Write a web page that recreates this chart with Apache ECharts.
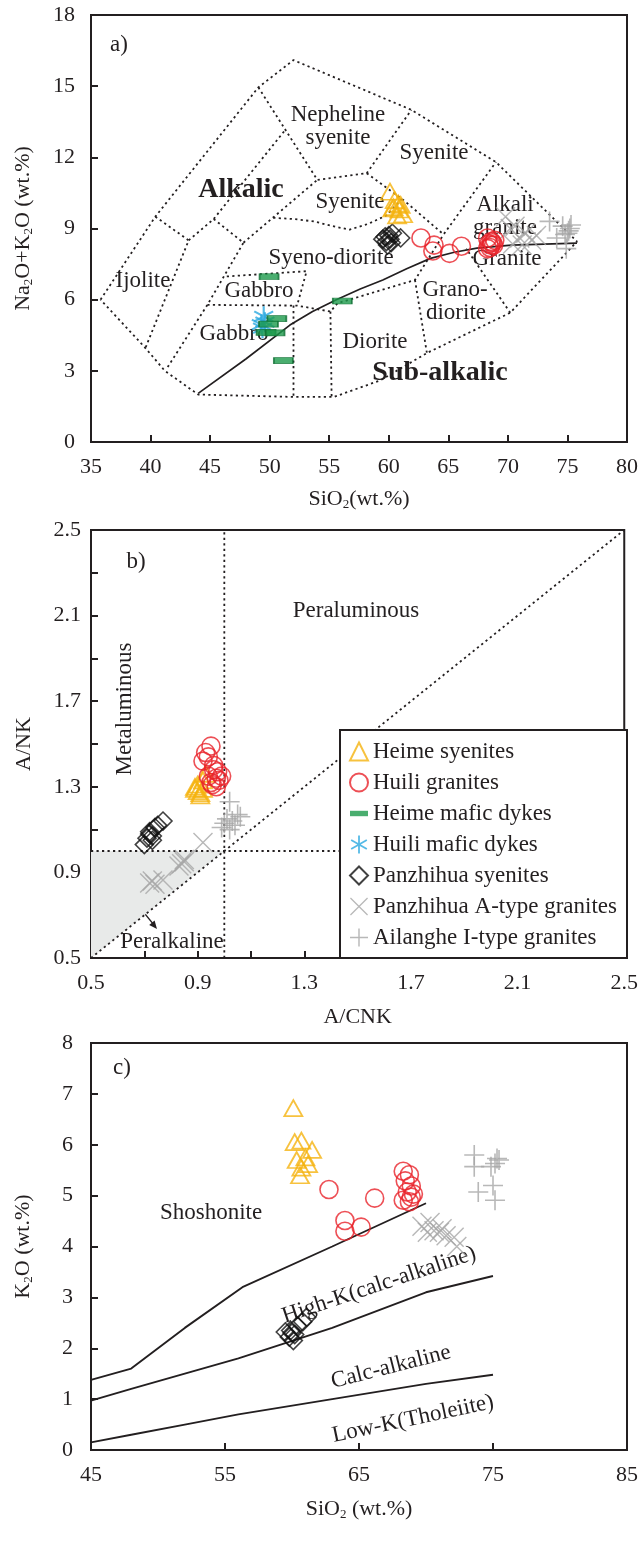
<!DOCTYPE html>
<html><head><meta charset="utf-8">
<script src="https://cdn.jsdelivr.net/npm/echarts@6/dist/echarts.min.js"></script>
<style>html,body{margin:0;padding:0;background:#fff}#c{width:641px;height:1541px}</style>
</head><body><div id="c"></div>
<script>
// ================= DATA =================
const seriesNames = ['Heime syenites','Huili granites','Heime mafic dykes','Huili mafic dykes','Panzhihua syenites','Panzhihua A-type granites','Ailanghe I-type granites'];

// ---- Panel a: TAS (SiO2 vs Na2O+K2O) ----
const aXTicks = [35,40,45,50,55,60,65,70,75,80];
const aYTicks = [0,3,6,9,12,15,18];
const tasHeimeSi  = [60.1,60.5,60.8,60.4,60.9,61.2,60.7,60.3,61.0];
const tasHeimeAlk = [10.55,10.2,10.05,9.9,9.8,9.6,9.55,9.85,10.0];
const tasHuiliSi  = [62.7,63.8,63.7,65.1,66.1,68.3,68.6,68.4,68.8,68.5,68.9,68.3,68.7,68.6];
const tasHuiliAlk = [8.6,8.3,8.05,7.95,8.25,8.6,8.45,8.35,8.3,8.2,8.5,8.15,8.4,8.3];
const tasHeimeDykeSi  = [49.95,50.6,49.9,49.7,50.45,51.15,56.1];
const tasHeimeDykeAlk = [6.97,5.2,4.97,4.62,4.6,3.43,5.94];
const tasHuiliDykeSi  = [49.5,49.3,49.6,49.4];
const tasHuiliDykeAlk = [5.3,4.95,5.05,4.8];
const tasPzhSyenSi  = [59.5,59.8,60.0,60.2,59.9,60.1,61.0,60.3,59.7];
const tasPzhSyenAlk = [8.55,8.45,8.7,8.4,8.3,8.55,8.6,8.8,8.65];
const tasPzhASi  = [69.8,70.2,70.6,71.0,71.5,72.0,72.4,70.4,71.2];
const tasPzhAAlk = [9.5,9.0,9.1,8.6,8.8,8.5,8.7,8.35,8.3];
const tasAilSi  = [73.5,74.1,74.6,75.1,75.3,74.9,75.0,75.2,74.8];
const tasAilAlk = [9.3,8.6,9.1,8.9,9.15,8.15,8.8,9.0,8.75];
// field boundaries (dotted) and alkalic / sub-alkalic divide (solid)
const tasOuter = [[35.8,6.0],[40.4,9.5],[49.05,14.95],[52.0,16.1],[61.9,14.0],[69.0,11.8],[75.8,8.45],[70.2,5.45],[63.2,3.75],[59.3,2.6],[55.4,1.9],[52.0,1.9],[44.0,2.0],[41.2,3.0],[39.5,4.0],[35.8,6.0]];
const tasFieldLines = [
  [[40.4,9.5],[43.2,8.5],[39.6,4.0]],
  [[43.2,8.5],[45.3,9.4],[51.3,13.15]],
  [[49.05,14.95],[54.0,11.05],[58.15,11.33],[61.9,14.0]],
  [[45.3,9.4],[47.8,8.4],[44.77,5.78],[41.3,3.05]],
  [[47.8,8.4],[54.0,11.05]],
  [[58.15,11.33],[61.4,10.13],[64.6,8.75],[69.0,11.8]],
  [[50.3,9.45],[52.0,9.4],[53.7,9.3],[55.3,9.1],[56.7,8.95],[58.3,9.2],[59.8,9.55],[61.1,10.25]],
  [[46.4,6.98],[53.1,7.2],[52.3,5.75]],
  [[44.77,5.78],[52.3,5.75],[55.1,5.5],[55.7,5.85],[62.2,6.83],[64.6,8.75]],
  [[52.0,5.75],[52.0,1.9]],
  [[55.1,5.5],[55.2,1.9]],
  [[62.2,6.83],[63.2,3.75]],
  [[70.2,5.45],[66.5,8.15]]
];
const tasDivide = [[44.0,2.05],[48.0,3.5],[51.7,4.93],[53.6,5.5],[55.6,6.0],[57.6,6.45],[59.5,6.83],[61.5,7.3],[63.5,7.74],[65.5,8.0],[67.4,8.17],[70.3,8.3],[75.8,8.38]];

// ---- Panel b: A/CNK vs A/NK ----
const bTicks  = [0.5,0.7,0.9,1.1,1.3,1.5,1.7,1.9,2.1,2.3,2.5];
const bLabels = [0.5,0.9,1.3,1.7,2.1,2.5];
const bHeimeACNK = [0.89,0.90,0.91,0.92,0.89,0.90,0.91,0.93,0.92];
const bHeimeANK  = [1.30,1.28,1.27,1.33,1.29,1.31,1.26,1.36,1.29];
const bHuiliACNK = [0.93,0.95,0.92,0.96,0.975,0.94,0.97,0.99,0.95,0.97,0.94,0.96,0.98,0.955];
const bHuiliANK  = [1.46,1.49,1.42,1.40,1.37,1.35,1.34,1.35,1.32,1.30,1.44,1.38,1.33,1.31];
const bPzhSyenACNK = [0.70,0.71,0.72,0.73,0.74,0.75,0.77,0.73,0.72];
const bPzhSyenANK  = [1.03,1.06,1.08,1.07,1.11,1.12,1.14,1.05,1.09];
const bPzhAACNK = [0.92,0.85,0.84,0.85,0.72,0.74,0.77,0.73,0.83];
const bPzhAANK  = [1.04,0.96,0.94,0.95,0.85,0.845,0.865,0.86,0.93];
const bAilACNK = [1.02,1.06,1.03,1.00,0.99,1.02,1.05,1.01,1.04];
const bAilANK  = [1.23,1.16,1.14,1.13,1.11,1.10,1.17,1.15,1.12];
const bVertical   = [[1.0,0.5],[1.0,2.5]];
const bHorizontal = [[0.5,1.0],[1.43,1.0]];
const bDiagonal   = [[0.5,0.5],[2.5,2.5]];
const bPeralkalineArea = [[0.5,1.0],[1.0,1.0],[0.5,0.5]];

// ---- Panel c: SiO2 vs K2O ----
const cXTicks = [45,55,65,75,85];
const cYTicks = [0,1,2,3,4,5,6,7,8];
const cHeimeSi = [60.1,60.2,60.7,61.5,60.35,61.0,61.2,60.7,60.6];
const cHeimeK  = [6.72,6.05,6.08,5.9,5.7,5.75,5.62,5.55,5.4];
const cHuiliSi = [62.76,63.95,63.95,65.16,66.17,68.3,68.76,68.45,68.9,68.6,68.9,68.3,68.76,69.06];
const cHuiliK  = [5.12,4.51,4.30,4.38,4.95,5.48,5.41,5.29,5.19,5.07,4.97,4.91,4.88,5.03];
const cPzhSyenSi = [59.5,59.9,60.1,60.4,60.8,61.1,59.8,60.2,60.0];
const cPzhSyenK  = [2.32,2.35,2.15,2.44,2.52,2.61,2.22,2.27,2.3];
const cPzhASi = [69.7,70.3,70.6,71.0,71.5,72.1,72.3,70.1,71.2];
const cPzhAK  = [4.4,4.47,4.31,4.28,4.21,4.18,4.0,4.28,4.35];
const cAilSi = [73.6,73.6,74.85,75.3,75.15,75.45,73.9,75.0,75.15];
const cAilK  = [5.8,5.57,5.57,5.73,5.63,5.7,5.07,5.2,4.91];
const cShoshoniteLine = [[45,1.38],[48,1.6],[52,2.4],[56.3,3.2],[63,4.0],[70,4.85]];
const cHighKLine      = [[45,0.97],[48,1.2],[52,1.5],[56,1.8],[63,2.4],[70,3.1],[75,3.42]];
const cLowKLine       = [[45,0.15],[48,0.3],[52,0.5],[56,0.7],[63,1.0],[70,1.3],[75,1.48]];

// ================= STYLE / BUILD =================
const FONT = '"Liberation Serif","Times New Roman",serif';
const INK = '#231f20';
const COL = {yellow:'#f5b30f', red:'#e8232b', green:'#1d9a4b', cyan:'#2aa9e0', gray:'#a6a6a6', black:'#111'};
const pairs = (xs, ys) => xs.map((x, i) => [x, ys[i]]);

const asteriskPath = 'path://M9,0L11,0L11,20L9,20Z M1.8,4.13L19.2,14.13L18.2,15.87L0.8,5.87Z M0.8,14.13L18.2,4.13L19.2,5.87L1.8,15.87Z';
const crossPath = 'path://M0.53,-0.53L20.53,19.47L19.47,20.53L-0.53,0.53Z M-0.53,19.47L19.47,-0.53L20.53,0.53L0.53,20.53Z';
const plusPath = 'path://M9.2,0L10.8,0L10.8,20L9.2,20Z M0,9.2L20,9.2L20,10.8L0,10.8Z';
const barPath = 'path://M0,0L20,0L20,6L0,6Z';

const markerDefs = {
  'Heime syenites': {symbol:'triangle', symbolSize:[18,16], itemStyle:{color:'rgba(0,0,0,0)', borderColor:COL.yellow, borderWidth:1.8}},
  'Huili granites': {symbol:'circle', symbolSize:18, itemStyle:{color:'rgba(0,0,0,0)', borderColor:COL.red, borderWidth:1.6}},
  'Heime mafic dykes': {symbol:'rect', symbolSize:[19,6], itemStyle:{color:COL.green, borderColor:'#0f6e33', borderWidth:1}},
  'Huili mafic dykes': {symbol:asteriskPath, symbolSize:20, itemStyle:{color:COL.cyan}},
  'Panzhihua syenites': {symbol:'diamond', symbolSize:18, itemStyle:{color:'rgba(0,0,0,0)', borderColor:COL.black, borderWidth:1.6}},
  'Panzhihua A-type granites': {symbol:crossPath, symbolSize:20, itemStyle:{color:COL.gray}},
  'Ailanghe I-type granites': {symbol:plusPath, symbolSize:20, itemStyle:{color:COL.gray}}
};
const legendIcons = {
  'Heime syenites': {icon:'triangle', itemStyle:{color:'rgba(0,0,0,0)', borderColor:COL.yellow, borderWidth:2}},
  'Huili granites': {icon:'circle', itemStyle:{color:'rgba(0,0,0,0)', borderColor:COL.red, borderWidth:2}},
  'Heime mafic dykes': {icon:barPath, itemStyle:{color:COL.green, borderWidth:0}},
  'Huili mafic dykes': {icon:asteriskPath, itemStyle:{color:COL.cyan, borderWidth:0}},
  'Panzhihua syenites': {icon:'diamond', itemStyle:{color:'rgba(0,0,0,0)', borderColor:COL.black, borderWidth:2}},
  'Panzhihua A-type granites': {icon:crossPath, itemStyle:{color:COL.gray, borderWidth:0}},
  'Ailanghe I-type granites': {icon:plusPath, itemStyle:{color:COL.gray, borderWidth:0}}
};

function scatter(name, grid, data) {
  const d = markerDefs[name];
  return {type:'scatter', name, xAxisIndex:grid, yAxisIndex:grid, data, symbol:d.symbol, symbolSize:d.symbolSize,
    itemStyle:Object.assign({}, d.itemStyle), emphasis:{disabled:true}, z:3};
}
function poly(grid, data, dotted, width) {
  return {type:'line', xAxisIndex:grid, yAxisIndex:grid, data, showSymbol:false, symbol:'none', silent:true,
    lineStyle:{color:INK, width:width || 1.8, type: dotted ? [2.2,3.3] : 'solid'}, z:2, emphasis:{disabled:true}};
}

const nameStyle = {fontFamily:FONT, fontSize:22, color:INK,
  rich:{s:{fontFamily:FONT, fontSize:13, color:INK, padding:[10,0,0,0]}}};
function xAx(grid, min, max, ticks, labels, name, gap, fmt) {
  return {gridIndex:grid, type:'value', min, max, splitLine:{show:false},
    axisLine:{onZero:false, lineStyle:{color:INK, width:2}},
    axisTick:{inside:true, length:7, customValues:ticks, lineStyle:{color:INK, width:2}},
    axisLabel:{customValues:labels, margin:14, color:INK, fontFamily:FONT, fontSize:22, formatter:fmt},
    name, nameLocation:'middle', nameGap:gap, nameTextStyle:nameStyle};
}
function yAx(grid, min, max, ticks, labels, name, margin, fmt) {
  return {gridIndex:grid, type:'value', min, max, splitLine:{show:false},
    axisLine:{onZero:false, lineStyle:{color:INK, width:2}},
    axisTick:{inside:true, length:7, customValues:ticks, lineStyle:{color:INK, width:2}},
    axisLabel:{customValues:labels, margin, color:INK, fontFamily:FONT, fontSize:22, formatter:fmt},
    name, nameLocation:'middle', nameRotate:90, nameGap:56, nameTextStyle:nameStyle};
}
const f1 = v => v.toFixed(1);
const f0 = v => String(v);

const series = [];
// Panel a
series.push(poly(0, tasOuter, true));
tasFieldLines.forEach(l => series.push(poly(0, l, true)));
series.push(poly(0, tasDivide, false, 1.7));
series.push(scatter('Panzhihua A-type granites', 0, pairs(tasPzhASi, tasPzhAAlk)));
series.push(scatter('Ailanghe I-type granites', 0, pairs(tasAilSi, tasAilAlk)));
series.push(scatter('Panzhihua syenites', 0, pairs(tasPzhSyenSi, tasPzhSyenAlk)));
series.push(scatter('Huili mafic dykes', 0, pairs(tasHuiliDykeSi, tasHuiliDykeAlk)));
series.push(scatter('Heime mafic dykes', 0, pairs(tasHeimeDykeSi, tasHeimeDykeAlk)));
series.push(scatter('Heime syenites', 0, pairs(tasHeimeSi, tasHeimeAlk)));
series.push(scatter('Huili granites', 0, pairs(tasHuiliSi, tasHuiliAlk)));
// Panel b
series.push({type:'custom', xAxisIndex:1, yAxisIndex:1, silent:true, z:1, data:[[0.5,0.5]],
  renderItem:(p, api) => ({type:'polygon', shape:{points:bPeralkalineArea.map(pt => api.coord(pt))}, style:{fill:'#e8eae9'}})});
series.push(poly(1, bVertical, true));
series.push(poly(1, bHorizontal, true));
series.push(poly(1, bDiagonal, true));
series.push(scatter('Panzhihua A-type granites', 1, pairs(bPzhAACNK, bPzhAANK)));
series.push(scatter('Ailanghe I-type granites', 1, pairs(bAilACNK, bAilANK)));
series.push(scatter('Panzhihua syenites', 1, pairs(bPzhSyenACNK, bPzhSyenANK)));
series.push(scatter('Heime syenites', 1, pairs(bHeimeACNK, bHeimeANK)));
series.push(scatter('Huili granites', 1, pairs(bHuiliACNK, bHuiliANK)));
// Panel c
series.push(poly(2, cShoshoniteLine, false, 1.9));
series.push(poly(2, cHighKLine, false, 1.9));
series.push(poly(2, cLowKLine, false, 1.9));
series.push(scatter('Panzhihua A-type granites', 2, pairs(cPzhASi, cPzhAK)));
series.push(scatter('Ailanghe I-type granites', 2, pairs(cAilSi, cAilK)));
series.push(scatter('Panzhihua syenites', 2, pairs(cPzhSyenSi, cPzhSyenK)));
series.push(scatter('Heime syenites', 2, pairs(cHeimeSi, cHeimeK)));
series.push(scatter('Huili granites', 2, pairs(cHuiliSi, cHuiliK)));

function T(text, x, y, size, bold, rot) {
  return {type:'text', x, y, rotation: rot ? rot * Math.PI / 180 : 0, z:1, silent:true,
    style:{text, fill:INK, font:(bold ? 'bold ' : '') + size + 'px ' + FONT, align:'center', verticalAlign:'middle'}};
}
const graphics = [
  // panel a labels
  T('a)',119,45,23), T('Nepheline',338,115,23), T('syenite',338,138,23), T('Syenite',434,153,23),
  T('Alkalic',241,190,28,true), T('Syenite',350,202,23), T('Alkali',505,205,23), T('granite',505,228,23),
  T('Syeno-diorite',331,258,23), T('Granite',507,259,23), T('Ijolite',143,281,23), T('Gabbro',259,291,23),
  T('Grano-',455,290,23), T('diorite',456,313,23), T('Gabbro',234,334,23), T('Diorite',375,342,23),
  T('Sub-alkalic',440,373,28,true),
  // panel b labels
  T('b)',136,562,23), T('Peraluminous',356,611,23), T('Metaluminous',125,709,23,false,90), T('Peralkaline',172,942,23),
  {type:'line', silent:true, z:1, shape:{x1:137,y1:904,x2:154,y2:925}, style:{stroke:INK, lineWidth:1.2}},
  {type:'polygon', silent:true, z:1, shape:{points:[[157,929],[149.2,925.0],[154.6,920.6]]}, style:{fill:INK}},
  // legend box
  {type:'rect', z:10, silent:true, shape:{x:340,y:730,width:287,height:228}, style:{fill:'#fff', stroke:INK, lineWidth:2}},
  // panel c labels
  T('c)',122,1068,23), T('Shoshonite',211,1213,23), T('High-K(calc-alkaline)',379,1285,23,false,18.5),
  T('Calc-alkaline',391,1367,23,false,14.3), T('Low-K(Tholeiite)',413,1419,23,false,12)
];

const option = {
  animation:false,
  backgroundColor:'#fff',
  grid:[
    {left:91, top:15, width:536, height:427, show:true, borderColor:INK, borderWidth:2},
    {left:91, top:530, width:536, height:428, show:true, borderColor:INK, borderWidth:2},
    {left:91, top:1043, width:536, height:407, show:true, borderColor:INK, borderWidth:2}
  ],
  xAxis:[
    xAx(0, 35, 80, aXTicks, aXTicks, 'SiO{s|2}(wt.%)', 46, f0),
    xAx(1, 0.5, 2.5, bTicks, bLabels, 'A/CNK', 48, f1),
    xAx(2, 45, 85, cXTicks, cXTicks, 'SiO{s|2} (wt.%)', 48, f0)
  ],
  yAxis:[
    yAx(0, 0, 18, aYTicks, aYTicks, 'Na{s|2}O+K{s|2}O (wt.%)', 16, f0),
    yAx(1, 0.5, 2.5, bTicks, bLabels, 'A/NK', 10, f1),
    yAx(2, 0, 8, cYTicks, cYTicks, 'K{s|2}O (wt.%)', 18, f0)
  ],
  legend:{
    orient:'vertical', left:349, top:740, z:30, padding:0,
    itemWidth:18, itemHeight:18, itemGap:8, symbolKeepAspect:true,
    selectedMode:false,
    textStyle:{fontFamily:FONT, fontSize:23, color:INK},
    data: seriesNames.map(n => Object.assign({name:n}, legendIcons[n]))
  },
  graphic:{elements:graphics},
  series
};
const chart = echarts.init(document.getElementById('c'), null, {renderer:'canvas'});
chart.setOption(option);
</script>
</body></html>
